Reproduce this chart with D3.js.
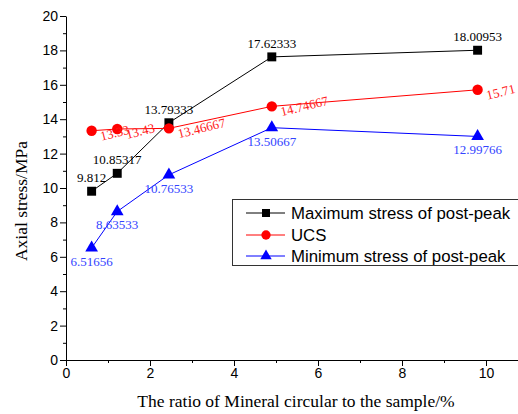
<!DOCTYPE html>
<html>
<head>
<meta charset="utf-8">
<script src="https://cdn.jsdelivr.net/npm/d3@7"></script>
<style>
  body { margin: 0; background: #fff; }
  svg { display: block; }
</style>
</head>
<body>
<div id="chart"></div>
<script>
// chart values
var ratios = [0.61, 1.22, 2.45, 4.9, 9.8];
var maxStress = [9.812, 10.85317, 13.79333, 17.62333, 18.00953];
var ucs = [13.33, 13.43, 13.46667, 14.74667, 15.71];
var minStress = [6.51656, 8.63533, 10.76533, 13.50667, 12.99766];
var seriesNames = ["Maximum stress of post-peak", "UCS", "Minimum stress of post-peak"];
var xTicks = [0, 2, 4, 6, 8, 10];
var yTicks = [0, 2, 4, 6, 8, 10, 12, 14, 16, 18, 20];

var width = 518, height = 414;
var sansFont = "'Liberation Sans', Arial, sans-serif";
var serifFont = "'Liberation Serif', 'Times New Roman', serif";

var svg = d3.select("#chart").append("svg")
    .attr("width", width)
    .attr("height", height);

var x = d3.scaleLinear().domain([0, 11]).range([66, 528]);
var y = d3.scaleLinear().domain([0, 20]).range([360, 16]);

// axes
svg.append("g")
    .attr("transform", "translate(0," + y(0) + ")")
    .call(d3.axisBottom(x).tickValues(xTicks).tickFormat(d3.format("d")).tickSize(6).tickSizeOuter(0).tickPadding(2));
svg.append("g")
    .attr("transform", "translate(0," + y(0) + ")")
    .call(d3.axisBottom(x).tickValues([1, 3, 5, 7, 9]).tickFormat("").tickSize(3).tickSizeOuter(0))
    .select(".domain").remove();

svg.append("g")
    .attr("transform", "translate(" + x(0) + ",0)")
    .call(d3.axisLeft(y).tickValues(yTicks).tickFormat(d3.format("d")).tickSize(6).tickSizeOuter(0).tickPadding(2));
svg.append("g")
    .attr("transform", "translate(" + x(0) + ",0)")
    .call(d3.axisLeft(y).tickValues(d3.range(1, 20, 2)).tickFormat("").tickSize(3).tickSizeOuter(0))
    .select(".domain").remove();

svg.selectAll(".tick text")
    .style("font-family", sansFont)
    .style("font-size", "14px")
    .style("fill", "#000");
svg.selectAll(".domain, .tick line").attr("stroke", "#000").attr("stroke-width", 1);

// axis titles
svg.append("text")
    .attr("transform", "translate(27,201) rotate(-90)")
    .attr("text-anchor", "middle")
    .style("font-family", serifFont)
    .style("font-size", "17.5px")
    .text("Axial stress/MPa");

svg.append("text")
    .attr("x", 296)
    .attr("y", 407)
    .attr("text-anchor", "middle")
    .style("font-family", serifFont)
    .style("font-size", "17.5px")
    .text("The ratio of Mineral circular to the sample/%");

var line = d3.line()
    .x(function(d) { return x(d[0]); })
    .y(function(d) { return y(d[1]); });

function pairs(vals) {
  return ratios.map(function(r, i) { return [r, vals[i]]; });
}

var series = [
  {vals: maxStress, color: "#000", shape: d3.symbolSquare, size: 80},
  {vals: ucs, color: "#ff0000", shape: d3.symbolCircle, size: 85},
  {vals: minStress, color: "#0000ff", shape: d3.symbolTriangle, size: 70}
];

series.forEach(function(s) {
  svg.append("path")
      .datum(pairs(s.vals))
      .attr("d", line)
      .attr("fill", "none")
      .attr("stroke", s.color)
      .attr("stroke-width", 1);
});

series.forEach(function(s) {
  svg.append("g").selectAll("path")
    .data(pairs(s.vals))
    .enter().append("path")
      .attr("transform", function(d) { return "translate(" + x(d[0]) + "," + y(d[1]) + ")"; })
      .attr("d", d3.symbol().type(s.shape).size(s.size))
      .attr("fill", s.color);
});

// value labels
svg.append("g").selectAll("text")
  .data(pairs(maxStress))
  .enter().append("text")
    .attr("x", function(d) { return x(d[0]); })
    .attr("y", function(d) { return y(d[1]) - 9; })
    .attr("text-anchor", "middle")
    .style("font-family", serifFont)
    .style("font-size", "13px")
    .style("fill", "#000")
    .text(function(d) { return d[1]; });

svg.append("g").selectAll("text")
  .data(pairs(ucs))
  .enter().append("text")
    .attr("transform", function(d) { return "translate(" + (x(d[0]) + 10) + "," + (y(d[1]) + 10) + ") rotate(-14)"; })
    .style("font-family", serifFont)
    .style("font-size", "13px")
    .style("fill", "#ff1a1a")
    .text(function(d) { return d[1]; });

svg.append("g").selectAll("text")
  .data(pairs(minStress))
  .enter().append("text")
    .attr("x", function(d) { return x(d[0]); })
    .attr("y", function(d) { return y(d[1]) + 18; })
    .attr("text-anchor", "middle")
    .style("font-family", serifFont)
    .style("font-size", "13px")
    .style("fill", "#3344ff")
    .text(function(d) { return d[1]; });

// legend
var legend = svg.append("g");
legend.append("rect")
    .attr("x", 232.5)
    .attr("y", 199.5)
    .attr("width", 300)
    .attr("height", 66)
    .attr("fill", "#fff")
    .attr("stroke", "#333")
    .attr("stroke-width", 1);

var rowY = [213, 235, 256];
series.forEach(function(s, i) {
  var g = legend.append("g").attr("transform", "translate(0," + rowY[i] + ")");
  g.append("line")
      .attr("x1", 246).attr("x2", 285)
      .attr("stroke", s.color).attr("stroke-width", 1);
  g.append("path")
      .attr("transform", "translate(266,0)")
      .attr("d", d3.symbol().type(s.shape).size(s.size * 0.8))
      .attr("fill", s.color);
  g.append("text")
      .attr("x", 291)
      .attr("dy", "0.36em")
      .style("font-family", sansFont)
      .style("font-size", "16.8px")
      .text(seriesNames[i]);
});
</script>
</body>
</html>
